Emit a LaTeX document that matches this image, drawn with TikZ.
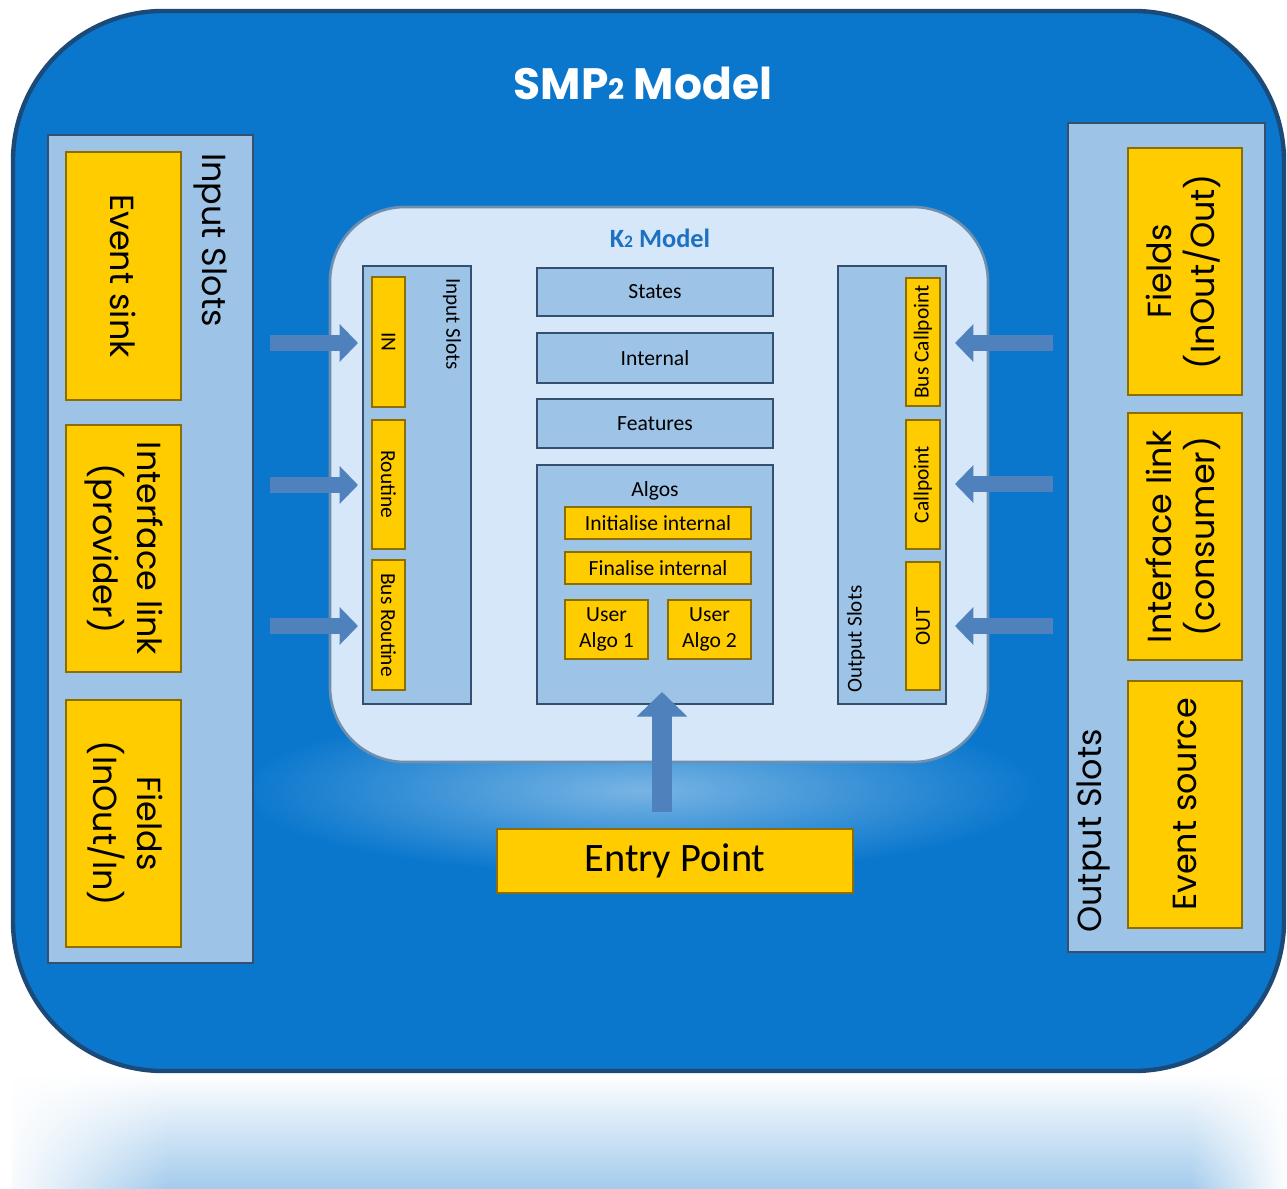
\documentclass[tikz,border=0pt]{standalone}
\usepackage{fontspec}
\setmainfont{Carlito}
\newfontfamily\geofont{Poppins}
\usetikzlibrary{arrows.meta,fadings}

\definecolor{outerblue}{HTML}{0A77CD}
\definecolor{outerline}{HTML}{1B4A78}
\definecolor{panelblue}{HTML}{9DC3E6}
\definecolor{panelline}{HTML}{34506E}
\definecolor{slotyellow}{HTML}{FFCC00}
\definecolor{slotline}{HTML}{8C6D00}
\definecolor{kfill}{HTML}{D5E7F9}
\definecolor{kline}{HTML}{6F8FAF}
\definecolor{arrowblue}{HTML}{4F81BD}
\definecolor{ktitle}{HTML}{1F70C1}
\definecolor{reflblue}{HTML}{A3CBEC}

% box given by its corners (x1,y1) (x2,y2) in pixel units
\newcommand\bx[7]{\node[#2, minimum width={(#5-#3)*0.02cm}, minimum height={(#6-#4)*0.02cm}] (#1) at ({(#3+#5)/2},{(#4+#6)/2}) {#7};}

\tikzset{
  panel/.style={draw=panelline, line width=1.2pt, fill=panelblue, inner sep=0pt, outer sep=0pt},
  slot/.style={draw=slotline, line width=0.8pt, fill=slotyellow, inner sep=0pt, outer sep=0pt, text=black},
  part/.style={draw=panelline, line width=1.2pt, fill=panelblue, inner sep=0pt, outer sep=0pt, font=\fontsize{12.3}{15}\selectfont},
  bigslot/.style={slot, font=\geofont\fontsize{19}{23}\selectfont},
  smallslot/.style={slot, font=\fontsize{12.2}{14}\selectfont},
  algo/.style={slot, font=\fontsize{12.3}{15}\selectfont},
  blockarrow/.style={draw=arrowblue, line width=9pt, -{Triangle[width=21pt,length=10.5pt]}},
}

\begin{document}
\begin{tikzpicture}[x=0.02cm, y=-0.02cm]
\useasboundingbox (0,0) rectangle (1287,1189);

% reflection under the model
\shade[top color=white, bottom color=reflblue] (12,1074) rectangle (1287,1189);
\fill[white, path fading=east] (0,1070) rectangle (170,1189);
\fill[white, path fading=west] (1190,1070) rectangle (1287,1189);

% SMP2 model frame
\draw[fill=outerblue, draw=outerline, line width=2.5pt, rounded corners=3cm] (13,11) rectangle (1284,1071);
\node[text=white, font=\geofont\bfseries\fontsize{25}{30}\selectfont] (smp) at (643,83) {SMP{\fontsize{16}{18}\selectfont 2} Model};

% soft glow below the K2 model
\shade[inner color=white!45!outerblue, outer color=outerblue] (640,790) ellipse [x radius=400, y radius=85];

% input slots of the SMP2 model
\bx{inpanel}{panel}{48}{135}{253}{963}{}
\node[rotate=-90, anchor=west, font=\geofont\fontsize{19}{23}\selectfont, inner sep=0pt] (inlabel) at (211,153) {Input Slots};
\bx{evsink}{bigslot}{66}{152}{181}{400}{\rotatebox{-90}{Event sink}}
\bx{ifprov}{bigslot}{66}{425}{181}{672}{\rotatebox{-90}{\begin{tabular}{@{}c@{}}Interface link\\(provider)\end{tabular}}}
\bx{fieldsin}{bigslot}{66}{700}{181}{947}{\rotatebox{-90}{\begin{tabular}{@{}c@{}}Fields\\(InOut/In)\end{tabular}}}

% output slots of the SMP2 model
\bx{outpanel}{panel}{1068}{123}{1265}{952}{}
\node[rotate=90, anchor=west, font=\geofont\fontsize{19}{23}\selectfont, inner sep=0pt] (outlabel) at (1093,933) {Output Slots};
\bx{fieldsout}{bigslot}{1128}{148}{1242}{395}{\rotatebox{90}{\begin{tabular}{@{}c@{}}Fields\\(InOut/Out)\end{tabular}}}
\bx{ifcons}{bigslot}{1128}{413}{1242}{660}{\rotatebox{90}{\begin{tabular}{@{}c@{}}Interface link\\(consumer)\end{tabular}}}
\bx{evsource}{bigslot}{1128}{681}{1242}{928}{\rotatebox{90}{Event source}}

% K2 model
\draw[fill=kfill, draw=kline, line width=1.5pt, rounded corners=1.5cm] (330,207) rectangle (988,762);
\node[text=ktitle, font=\bfseries\fontsize{15}{18}\selectfont] (k2) at (660,238) {K{\fontsize{10}{12}\selectfont 2} Model};

% K2 input slots
\bx{kin}{panel}{363}{266}{471}{704}{}
\node[rotate=-90, anchor=west, font=\fontsize{12}{14}\selectfont, inner sep=0pt] (kinlabel) at (452,278) {Input Slots};
\bx{slotin}{smallslot}{372}{277}{405}{407}{\rotatebox{-90}{IN}}
\bx{slotroutine}{smallslot}{372}{420}{405}{549}{\rotatebox{-90}{Routine}}
\bx{slotbusroutine}{smallslot}{372}{560}{405}{690}{\rotatebox{-90}{Bus Routine}}

% K2 output slots
\bx{kout}{panel}{838}{266}{946}{704}{}
\node[rotate=90, anchor=west, font=\fontsize{12}{14}\selectfont, inner sep=0pt] (koutlabel) at (856,693) {Output Slots};
\bx{slotbuscall}{smallslot}{906}{278}{940}{406}{\rotatebox{90}{Bus Callpoint}}
\bx{slotcall}{smallslot}{906}{420}{940}{549}{\rotatebox{90}{Callpoint}}
\bx{slotout}{smallslot}{906}{562}{940}{690}{\rotatebox{90}{OUT}}

% K2 parts
\bx{states}{part}{537}{268}{773}{316}{States}
\bx{internal}{part}{537}{333}{773}{383}{Internal}
\bx{features}{part}{537}{399}{773}{448}{Features}
\bx{algos}{part}{537}{465}{773}{704}{}
\node[font=\fontsize{12.3}{15}\selectfont] (algoslabel) at (655,491) {Algos};
\bx{init}{algo}{565}{507}{751}{539}{Initialise internal}
\bx{final}{algo}{565}{552}{751}{584}{Finalise internal}
\bx{user1}{algo}{565}{600}{648}{659}{\begin{tabular}{@{}c@{}}User\\Algo 1\end{tabular}}
\bx{user2}{algo}{668}{600}{751}{659}{\begin{tabular}{@{}c@{}}User\\Algo 2\end{tabular}}

% entry point
\bx{entry}{slot}{497}{829}{853}{893}{\fontsize{23}{27}\selectfont Entry Point}

% arrows into the K2 input slots
\coordinate (ia1) at (270,343);
\coordinate (ia2) at (270,485);
\coordinate (ia3) at (270,626);
\foreach \c in {ia1,ia2,ia3}
  \draw[blockarrow, shorten >=0.1cm] (\c) -- (kin.west |- \c);

% arrows into the K2 output slots
\coordinate (oa1) at (1053,343);
\coordinate (oa2) at (1053,484);
\coordinate (oa3) at (1053,626);
\foreach \c in {oa1,oa2,oa3}
  \draw[blockarrow, shorten >=0.18cm] (\c) -- (kout.east |- \c);

% entry point arrow
\coordinate (ep) at (662,812);
\draw[blockarrow, line width=11pt, -{Triangle[width=28pt,length=14pt]}, shorten >=-0.24cm] (ep) -- (ep |- algos.south);
\end{tikzpicture}
\end{document}
